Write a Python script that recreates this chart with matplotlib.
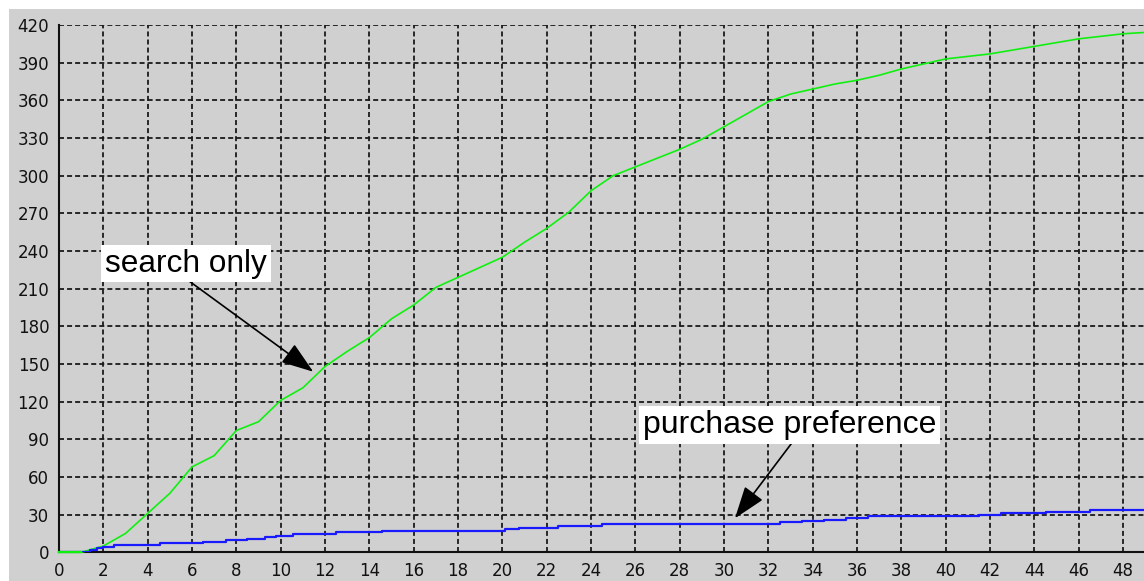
import matplotlib
matplotlib.use("Agg")
import matplotlib.pyplot as plt
from matplotlib.patches import Rectangle

# search only (green), read at roughly unit steps
search_x = [0, 1, 2, 3, 4, 5, 6, 7, 8, 9, 10, 11, 12, 13, 14, 15, 16, 17, 18, 19, 20,
            21, 22, 23, 24, 25, 26, 27, 28, 29, 30, 31, 32, 33, 34, 35, 36, 37, 38, 39, 40,
            41, 42, 43, 44, 45, 46, 47, 48, 48.9]
search_y = [0, 0, 5, 15, 31, 47, 68, 77, 97, 104, 121, 131, 148, 160, 171, 186, 197, 211, 219, 227, 235,
            247, 258, 271, 288, 300, 307, 314, 321, 329, 339, 349, 359, 365, 369, 373, 376, 380, 385, 389, 393,
            395, 397, 400, 403, 406, 409, 411, 413, 414]

# purchase preference (blue), step positions
purchase_x = [0, 1.1, 1.4, 1.7, 2, 2.5, 4.55, 6.5, 7.55, 8.5, 9.3, 9.8, 10.55, 12.5, 14.55, 20.1, 20.75,
              22.5, 24.5, 32.5, 33.5, 34.5, 35.5, 36.5, 41.5, 42.5, 44.5, 46.5, 48.9]
purchase_y = [0, 0, 2, 3.5, 4.5, 5.6, 7.2, 8.5, 9.8, 10.8, 12.2, 13.2, 14.6, 15.9, 17, 18.3, 19.7,
              21.2, 22.6, 23.9, 25, 26, 27.3, 28.7, 29.7, 31, 32.4, 33.7, 33.7]

x_ticks = list(range(0, 49, 2))
y_ticks = list(range(0, 421, 30))

GRAY = "#d0d0d0"
plt.rcParams["lines.scale_dashes"] = False

fig = plt.figure(figsize=(11.44, 5.81), dpi=100, facecolor="white")
fig.patches.append(Rectangle((9 / 1144, 0), 1, 1 - 9 / 581, transform=fig.transFigure,
                             facecolor=GRAY, edgecolor="none", zorder=-10))
ax = fig.add_axes([59 / 1144, 28.7 / 581, 1 - 59 / 1144, (552.3 - 25) / 581])
ax.set_facecolor(GRAY)

ax.plot(search_x, search_y, color="#10f010", lw=1.2, zorder=5, clip_on=False)
ax.plot(purchase_x, purchase_y, color="#1a1aff", lw=1.6, drawstyle="steps-post", zorder=5)
ax.plot(search_x[:2], search_y[:2], color="#10f010", lw=1.6, zorder=6, clip_on=False)

ax.set_xlim(0, 48.94)
ax.set_ylim(0, 420)
ax.set_xticks(x_ticks)
ax.set_yticks(y_ticks)
ax.tick_params(length=0, labelsize=12, colors="#111111", pad=7)
ax.grid(True, color="#1a1a1a", lw=1.3, linestyle=(0, (3.6, 2.2)))
ax.set_axisbelow(True)
for s in ("top", "right"):
    ax.spines[s].set_visible(False)
for s in ("left", "bottom"):
    ax.spines[s].set_linewidth(1.5)
    ax.spines[s].set_color("#111111")
    ax.spines[s].set_zorder(4)

arrow = dict(arrowstyle="-|>,head_length=0.8,head_width=0.28", mutation_scale=25,
             lw=1.2, color="black", shrinkA=0, shrinkB=0)
box = dict(boxstyle="square,pad=0.12", facecolor="white", edgecolor="none")

ax.annotate("", xy=(11.47, 143.8), xytext=(5.64, 219), arrowprops=arrow, zorder=7)
ax.text(5.72, 230, "search only", fontsize=22.8, family="Liberation Sans",
        ha="center", va="center", bbox=box, zorder=8)

ax.annotate("", xy=(30.49, 27.1), xytext=(33.12, 88.6), arrowprops=arrow, zorder=7)
ax.text(32.95, 101.6, "purchase preference", fontsize=23, family="Liberation Sans",
        ha="center", va="center", bbox=box, zorder=8)

fig.savefig("out.png", dpi=100, facecolor=fig.get_facecolor())
